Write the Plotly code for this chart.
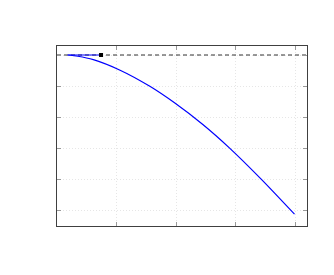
import plotly.graph_objects as go

# curve
curve_x = [0.18, 0.35, 0.61, 1.06, 1.56, 1.98, 2.45, 2.90, 3.43, 3.99]
curve_y = [0.0, -0.04, -0.15, -0.49, -1.01, -1.55, -2.24, -3.0, -4.0, -5.13]

seg_x = [0.18, 0.74]
seg_y = [0.0, 0.0]

ref_x = [0.0, 4.2]
ref_y = [0.0, 0.0]

x_ticks = [0, 1, 2, 3, 4]
y_ticks = [0, -1, -2, -3, -4, -5]

fig = go.Figure()
fig.add_trace(go.Scatter(x=ref_x, y=ref_y, mode="lines",
                         line=dict(color="#333333", width=1, dash="4px,3px"),
                         showlegend=False, hoverinfo="skip"))
fig.add_trace(go.Scatter(x=curve_x, y=curve_y, mode="lines",
                         line=dict(color="#0000ff", width=1.2, shape="spline", smoothing=0.8),
                         showlegend=False))
fig.add_trace(go.Scatter(x=seg_x, y=seg_y, mode="lines",
                         line=dict(color="#0000ff", width=1.2),
                         showlegend=False))
fig.add_trace(go.Scatter(x=[seg_x[-1]], y=[seg_y[-1]], mode="markers",
                         marker=dict(color="black", size=4, symbol="square"),
                         showlegend=False))

axis_common = dict(showline=True, linecolor="#404040", linewidth=1, mirror="ticks",
                   ticks="inside", ticklen=4, tickcolor="#999999", tickwidth=1,
                   showticklabels=False, showgrid=True, gridcolor="#e6e6e6",
                   griddash="1px,2px", gridwidth=1, zeroline=False)

fig.update_xaxes(range=[0, 4.2], tickvals=x_ticks, **axis_common)
fig.update_yaxes(range=[-5.51, 0.29], tickvals=y_ticks, **axis_common)

fig.update_layout(width=334, height=275,
                  margin=dict(l=49, r=35, t=38, b=57),
                  paper_bgcolor="white", plot_bgcolor="white")

fig.write_html("out.html")
